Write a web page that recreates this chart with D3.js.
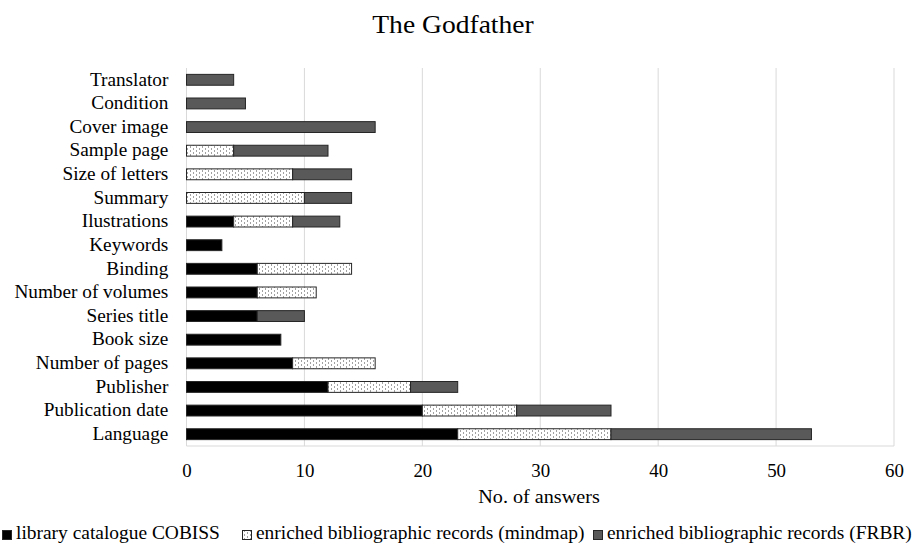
<!DOCTYPE html>
<html><head><meta charset="utf-8">
<script src="https://cdn.jsdelivr.net/npm/d3@7"></script>
<style>body{margin:0;background:#fff}svg{display:block}text{font-family:"Liberation Serif","Times New Roman",serif;fill:#000}</style>
</head><body><svg id="c" width="920" height="545"></svg>
<script>
const categories = ["Translator","Condition","Cover image","Sample page","Size of letters","Summary","Ilustrations","Keywords","Binding","Number of volumes","Series title","Book size","Number of pages","Publisher","Publication date","Language"];
const cobiss  = [0,0,0,0,0,0,4,3,6,6,6,8,9,12,20,23];
const mindmap = [0,0,0,4,9,10,5,0,8,5,0,0,7,7,8,13];
const frbr    = [4,5,16,8,5,4,4,0,0,0,4,0,0,4,8,17];
const seriesNames = ["library catalogue COBISS","enriched bibliographic records (mindmap)","enriched bibliographic records (FRBR)"];
const xTicks = [0,10,20,30,40,50,60];

const svg = d3.select("#c");
const defs = svg.append("defs");
const pat = defs.append("pattern").attr("id","dots").attr("patternUnits","userSpaceOnUse").attr("width",6).attr("height",4);
pat.append("rect").attr("width",6).attr("height",4).attr("fill","#fff");
pat.append("rect").attr("x",1).attr("y",0.5).attr("width",1).attr("height",1).attr("fill","#444");
pat.append("rect").attr("x",4).attr("y",2.5).attr("width",1).attr("height",1).attr("fill","#444");
const fills = ["#000","url(#dots)","#595959"];

const m = {left:186.5, right:894, top:68, bottom:446};
const x = d3.scaleLinear().domain([0,60]).range([m.left,m.right]);
const y = d3.scaleBand().domain(categories).range([m.top,m.bottom]).paddingInner(0.54).paddingOuter(0.27);

// grid
svg.append("g").selectAll("line").data(xTicks).join("line")
  .attr("x1",d=>x(d)).attr("x2",d=>x(d)).attr("y1",m.top).attr("y2",m.bottom)
  .attr("stroke","#d9d9d9").attr("stroke-width",1);
svg.append("line").attr("x1",m.left).attr("x2",m.right).attr("y1",m.bottom).attr("y2",m.bottom).attr("stroke","#d9d9d9");

// stacked bars
const data = categories.map((c,i)=>({cat:c, v:[cobiss[i],mindmap[i],frbr[i]]}));
const gBars = svg.append("g");
data.forEach(d=>{
  let acc = 0;
  d.v.forEach((val,k)=>{
    if(val>0){
      gBars.append("rect").attr("x",x(acc)).attr("width",x(acc+val)-x(acc))
        .attr("y",y(d.cat)).attr("height",y.bandwidth())
        .attr("fill",fills[k]).attr("stroke","#262626").attr("stroke-width",1);
    }
    acc += val;
  });
});

// axes labels
const xa = d3.axisBottom(x).tickValues(xTicks).tickSize(0).tickPadding(0);
const gx = svg.append("g").attr("transform",`translate(0,${m.bottom})`).call(xa);
gx.select(".domain").remove();
gx.selectAll("text").attr("y",31).attr("dy",null).attr("transform","scale(1.05,1)")
  .style("font-size","18px").style("font-family","Liberation Serif");

const ya = d3.axisLeft(y).tickSize(0).tickPadding(17);
const gy = svg.append("g").attr("transform",`translate(${m.left},0)`).call(ya);
gy.select(".domain").remove();
gy.selectAll("text").attr("transform","scale(1.07,1)").style("font-size","18px").style("font-family","Liberation Serif");

svg.append("text").attr("transform","translate(453,33) scale(1.06,1)").attr("text-anchor","middle").style("font-size","26px").text("The Godfather");
svg.append("text").attr("transform","translate(539,503) scale(1.12,1)").attr("text-anchor","middle").style("font-size","18px").text("No. of answers");

// legend
const leg = svg.append("g");
const lx = [2,242,593];
seriesNames.forEach((n,k)=>{
  leg.append("rect").attr("x",lx[k]+0.5).attr("y",530.5).attr("width",9).attr("height",9).attr("fill",fills[k]).attr("stroke","#262626");
  leg.append("text").attr("transform",`translate(${lx[k]+14},539) scale(1.08,1)`).style("font-size","18px").text(n);
});
</script></body></html>
